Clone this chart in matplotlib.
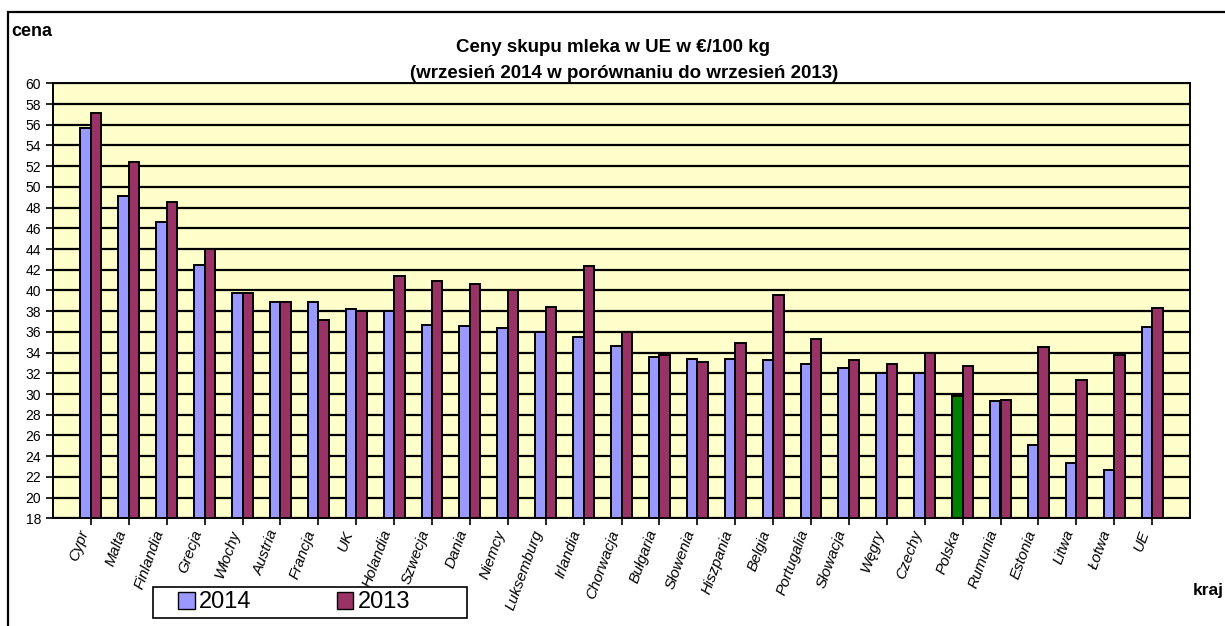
import numpy as np
import matplotlib
matplotlib.use("Agg")
import matplotlib.pyplot as plt
from matplotlib.patches import Rectangle, Patch

plt.rcParams['font.family'] = ['Liberation Sans', 'DejaVu Sans']

kraje = ['Cypr', 'Malta', 'Finlandia', 'Grecja', 'Włochy', 'Austria', 'Francja', 'UK',
         'Holandia', 'Szwecja', 'Dania', 'Niemcy', 'Luksemburg', 'Irlandia', 'Chorwacja',
         'Bułgaria', 'Słowenia', 'Hiszpania', 'Belgia', 'Portugalia', 'Słowacja', 'Węgry',
         'Czechy', 'Polska', 'Rumunia', 'Estonia', 'Litwa', 'Łotwa', 'UE']
ceny_2014 = [55.7, 49.1, 46.6, 42.5, 39.8, 38.9, 38.9, 38.2, 38.0, 36.7, 36.6, 36.4, 36.0,
             35.5, 34.6, 33.6, 33.4, 33.4, 33.3, 32.9, 32.5, 32.0, 32.0, 29.8, 29.3, 25.1,
             23.3, 22.7, 36.5]
ceny_2013 = [57.1, 52.4, 48.5, 44.0, 39.8, 38.9, 37.1, 38.0, 41.4, 40.9, 40.6, 40.0, 38.4,
             42.4, 36.0, 33.8, 33.1, 34.9, 39.6, 35.3, 33.3, 32.9, 34.0, 32.7, 29.4, 34.5,
             31.4, 33.8, 38.3]

kolor_2014 = '#9999FF'
kolor_2013 = '#993366'
kolor_pl = '#008000'

fig = plt.figure(figsize=(12.25, 6.26), dpi=100)
ax = fig.add_axes([53 / 1225, 1 - 518.3 / 626, 1137 / 1225, 435 / 626])

x = np.arange(1, len(kraje) + 1)
w = 0.275
kolory = [kolor_pl if k == 'Polska' else kolor_2014 for k in kraje]
ax.bar(x - w / 2, np.array(ceny_2014) - 18, w, bottom=18, color=kolory,
       edgecolor='black', linewidth=1.4, zorder=3)
ax.bar(x + w / 2, np.array(ceny_2013) - 18, w, bottom=18, color=kolor_2013,
       edgecolor='black', linewidth=1.4, zorder=3)

ax.set_facecolor('#FFFFCC')
ax.set_xlim(0, len(kraje) + 1)
ax.set_ylim(18, 60)
ax.set_yticks(np.arange(18, 61, 2))
ax.yaxis.grid(True, color='black', linewidth=1.6, zorder=1)
ax.set_axisbelow(True)
ax.set_xticks(x)
ax.set_xticklabels(kraje, rotation=70, ha='right', va='top', style='italic',
                   fontsize=11)
ax.tick_params(axis='y', labelsize=10, length=5, width=1.2, direction='out')
ax.tick_params(axis='x', length=5, width=1.2, direction='out', pad=2)
for s in ax.spines.values():
    s.set_color('black')
    s.set_linewidth(1.4)

fig.text(613 / 1225, 1 - 47 / 626, 'Ceny skupu mleka w UE w €/100 kg',
         ha='center', va='center', fontsize=13.5, fontweight='bold')
fig.text(624 / 1225, 1 - 74 / 626, '(wrzesień 2014 w porównaniu do wrzesień 2013)',
         ha='center', va='center', fontsize=13.5, fontweight='bold')
fig.text(11 / 1225, 1 - 32 / 626, 'cena', ha='left', va='center',
         fontsize=13, fontweight='bold')
fig.text(1193 / 1225, 1 - 590 / 626, 'kraj', ha='left', va='center',
         fontsize=12.5, fontweight='bold')

# ramka obszaru wykresu
fig.patches.append(Rectangle((8 / 1225, -0.1), 1.2, 1 - 12 / 626 + 0.1,
                             transform=fig.transFigure, fill=False,
                             edgecolor='black', linewidth=1.6))

# ramka legendy
fig.patches.append(Rectangle((153 / 1225, 1 - 618 / 626), 314 / 1225, 31 / 626,
                             transform=fig.transFigure, facecolor='white',
                             edgecolor='black', linewidth=1.2, zorder=4))

uchwyty = [Patch(facecolor=kolor_2014, edgecolor='black', linewidth=1),
           Patch(facecolor=kolor_2013, edgecolor='black', linewidth=1)]
leg = fig.legend(uchwyty, ['2014', '2013'], loc='center left',
                 bbox_to_anchor=(178 / 1225, 1 - 602.5 / 626), ncol=2, fontsize=17,
                 frameon=False, handlelength=0.7, handleheight=0.7,
                 handletextpad=0.2, columnspacing=3.6, borderpad=0, borderaxespad=0)
leg.set_zorder(5)

fig.savefig('out.png', dpi=100)
